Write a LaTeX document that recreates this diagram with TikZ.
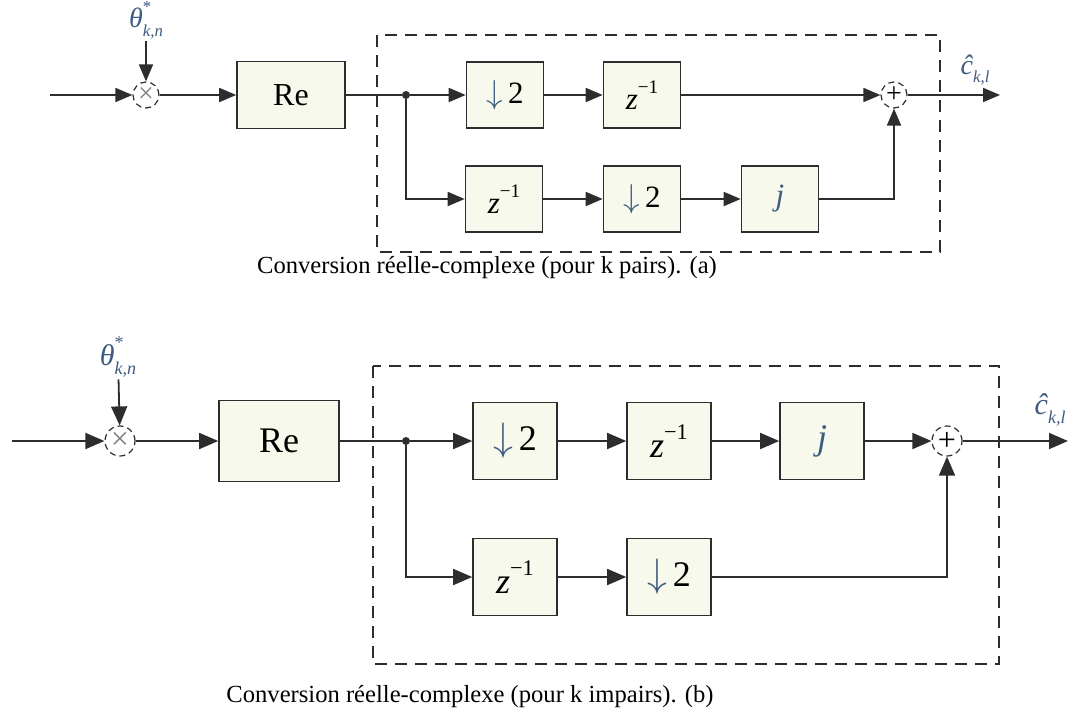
\documentclass[tikz,border=0pt]{standalone}
\usepackage{fontspec}
\setmainfont{Liberation Serif}
\usetikzlibrary{arrows.meta}

\definecolor{boxfill}{RGB}{246,249,235}
\definecolor{lbl}{RGB}{62,92,128}
\definecolor{ink}{RGB}{45,45,45}

% one unit = one pixel of the 1075 x 712 layout, y pointing down
\tikzset{
  x=0.5pt, y=-0.5pt,
  wire/.style={draw=ink, line width=0.9pt},
  sigA/.style={wire, -{Triangle[length=8.5pt,width=7pt]}},
  sigB/.style={wire, -{Triangle[length=9.5pt,width=8pt]}},
  blkA/.style={draw=ink, fill=boxfill, line width=0.8pt, inner sep=0pt,
    minimum width=38.5pt, minimum height=33pt, font=\fontsize{15.5}{15.5}\selectfont},
  blkB/.style={draw=ink, fill=boxfill, line width=0.8pt, inner sep=0pt,
    minimum width=42pt, minimum height=38.5pt, font=\fontsize{18}{18}\selectfont},
  opA/.style={circle, draw=ink, densely dashed, line width=0.6pt, inner sep=0pt,
    minimum size=13pt, font=\fontsize{14}{14}\selectfont},
  opB/.style={circle, draw=ink, densely dashed, line width=0.6pt, inner sep=0pt,
    minimum size=15pt, font=\fontsize{16}{16}\selectfont},
  frame/.style={draw=ink, line width=0.8pt, dash pattern=on 6pt off 4pt},
  tag/.style={text=lbl, inner sep=1pt},
  dot/.style={circle, fill=ink, inner sep=0pt, minimum size=4pt},
  caption/.style={font=\fontsize{12.3}{14}\selectfont, inner sep=0pt},
}
\newcommand{\dnsamp}{{\color{lbl}\scalebox{1.15}{$\downarrow$}}\,2}
\newcommand{\zdelay}{\textit{z}\raisebox{0.5em}{\scalebox{0.62}{−1}}}
\newcommand{\jmul}{{\color{lbl}\textit{j}}}
\newcommand{\thetalbl}{\textit{θ}\rlap{\raisebox{0.55em}{\scalebox{0.6}{*}}}\raisebox{-0.3em}{\scalebox{0.6}{\itshape k,n}}}
\newcommand{\chatlbl}{\textit{ĉ}\raisebox{-0.3em}{\scalebox{0.6}{\itshape k,l}}}

\begin{document}
\begin{tikzpicture}
\useasboundingbox (0,0) rectangle (1075,712);

% ---------------- (a) even k ----------------
\coordinate (inA) at (50,95);
\node[opA, text=gray] (mulA) at (146,95) {×};
\node[tag, font=\fontsize{14}{14}\selectfont] (thA) at (146,20) {\thetalbl};
\node[blkA, minimum width=54pt, minimum height=33.5pt, font=\fontsize{16}{16}\selectfont] (reA) at (291,95) {Re};
\node[dot] (brA) at (406,95) {};
\node[blkA] (dA1) at (505,95) {\dnsamp};
\node[blkA] (zA1) at (642,95) {\zdelay};
\node[blkA] (zA2) at (504,199) {\zdelay};
\node[blkA] (dA2) at (642,199) {\dnsamp};
\node[blkA] (jA)  at (780,199) {\jmul};
\node[opA] (sumA) at (894,95) {+};
\coordinate (outA) at (1000,95);
\node[tag, font=\fontsize{14}{14}\selectfont] (cA) at (975,70) {\chatlbl};

\draw[frame] (377,35) rectangle (940,252);

\draw[sigA] (inA) -- (mulA);
\draw[sigA] (thA) -- (mulA);
\draw[sigA] (mulA) -- (reA);
\draw[wire] (reA) -- (brA);
\draw[sigA] (brA) -- (dA1);
\draw[sigA] (dA1) -- (zA1);
\draw[sigA] (zA1) -- (sumA);
\draw[sigA] (brA) |- (zA2);
\draw[sigA] (zA2) -- (dA2);
\draw[sigA] (dA2) -- (jA);
\draw[sigA] (jA) -| (sumA);
\draw[sigA] (sumA) -- (outA);

\node[caption] (capA) at (487,268) {Conversion réelle-complexe (pour k pairs). (a)};

% ---------------- (b) odd k ----------------
\coordinate (inB) at (12,441);
\node[opB, text=gray] (mulB) at (120,441) {×};
\node[tag, font=\fontsize{15}{15}\selectfont] (thB) at (118,357) {\thetalbl};
\node[blkB, minimum width=60pt, minimum height=40.5pt, font=\fontsize{18}{18}\selectfont] (reB) at (279,441) {Re};
\node[dot] (brB) at (406,441) {};
\node[blkB] (dB1) at (515,441) {\dnsamp};
\node[blkB] (zB1) at (669,441) {\zdelay};
\node[blkB] (jB)  at (822,441) {\jmul};
\node[blkB] (zB2) at (515,577) {\zdelay};
\node[blkB] (dB2) at (669,577) {\dnsamp};
\node[opB] (sumB) at (947,441) {+};
\coordinate (outB) at (1068,441);
\node[tag, font=\fontsize{15}{15}\selectfont] (cB) at (1050,410) {\chatlbl};

\draw[frame] (373,366) rectangle (999,664);

\draw[sigB] (inB) -- (mulB);
\draw[sigB] (thB) -- (mulB);
\draw[sigB] (mulB) -- (reB);
\draw[wire] (reB) -- (brB);
\draw[sigB] (brB) -- (dB1);
\draw[sigB] (dB1) -- (zB1);
\draw[sigB] (zB1) -- (jB);
\draw[sigB] (jB) -- (sumB);
\draw[sigB] (brB) |- (zB2);
\draw[sigB] (zB2) -- (dB2);
\draw[sigB] (dB2) -| (sumB);
\draw[sigB] (sumB) -- (outB);

\node[caption] (capB) at (470,697) {Conversion réelle-complexe (pour k impairs). (b)};
\end{tikzpicture}
\end{document}
